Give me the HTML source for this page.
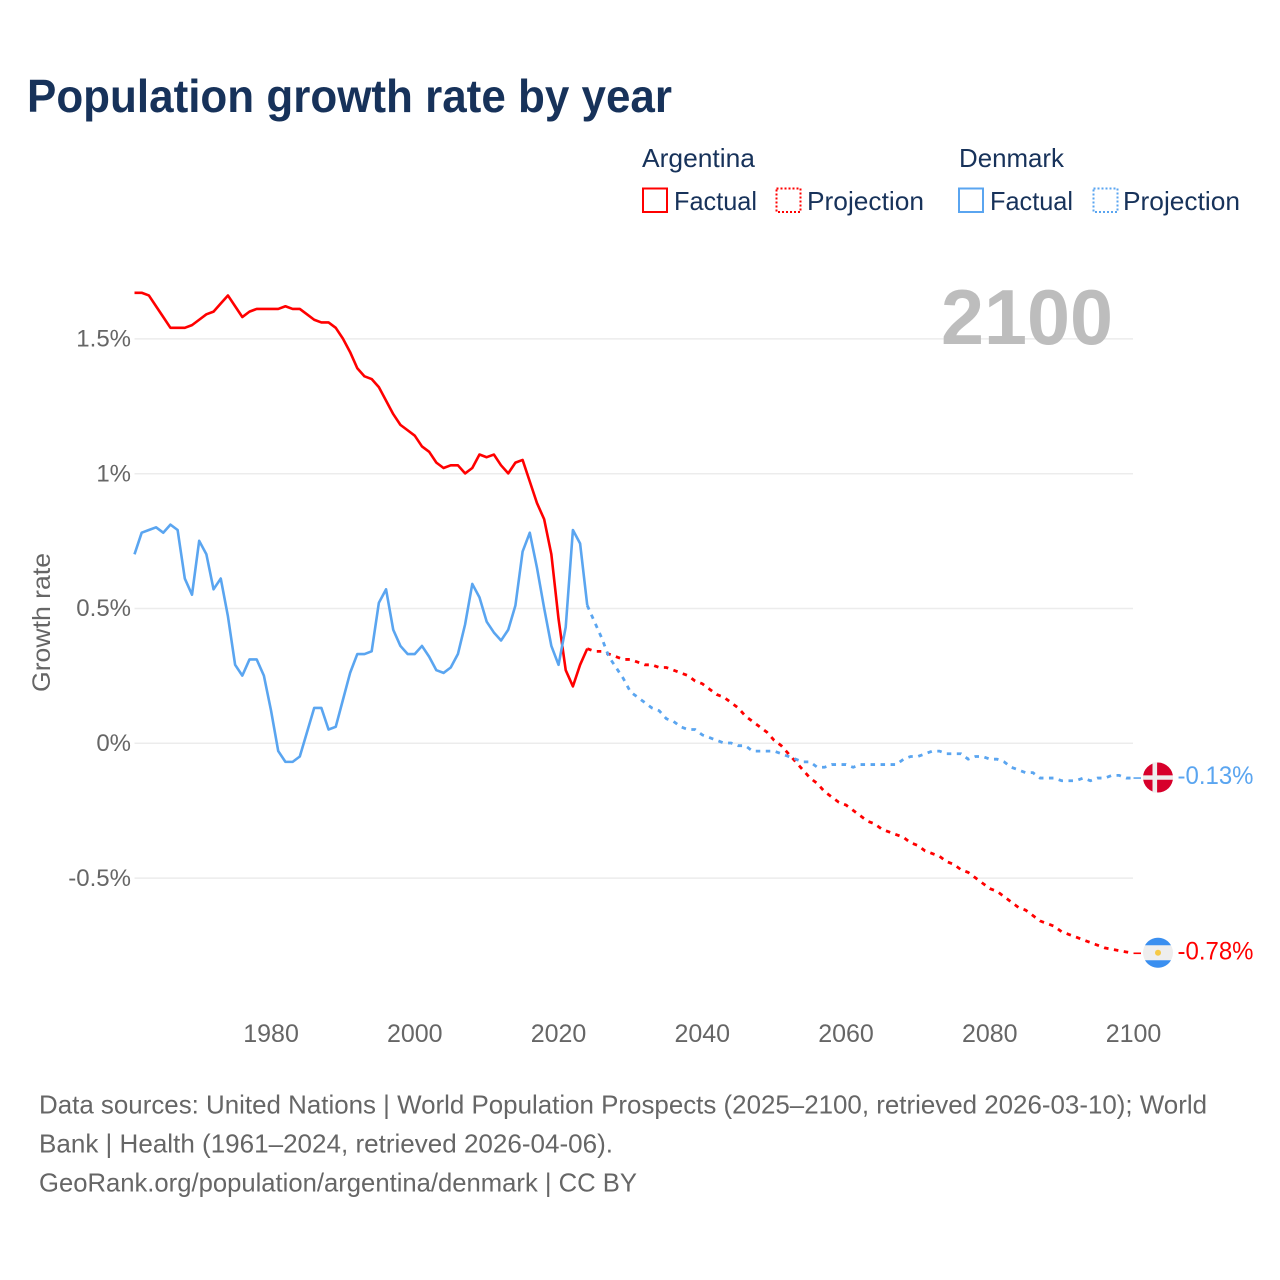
<!DOCTYPE html>
<html lang="en">
<head>
<meta charset="utf-8">
<title>Population growth rate by year</title>
<style>
html,body{margin:0;padding:0;background:#fff;}
svg{display:block;font-family:"Liberation Sans",sans-serif;}
</style>
</head>
<body>
<svg id="chart" width="1280" height="1280" viewBox="0 0 1280 1280" xmlns="http://www.w3.org/2000/svg">
  <rect x="0" y="0" width="1280" height="1280" fill="#fff"/>
  <text x="27" y="112" font-size="46" font-weight="700" fill="#17325a" textLength="645" lengthAdjust="spacingAndGlyphs">Population growth rate by year</text>

  <g font-size="26" fill="#17325a">
    <text x="642" y="167" textLength="113" lengthAdjust="spacingAndGlyphs">Argentina</text>
    <text x="959" y="167" textLength="105" lengthAdjust="spacingAndGlyphs">Denmark</text>
    <rect x="643" y="188.5" width="24" height="23.5" fill="none" stroke="#ff0000" stroke-width="2"/>
    <text x="674" y="210" textLength="83" lengthAdjust="spacingAndGlyphs">Factual</text>
    <rect x="776.5" y="188.5" width="24" height="23.5" fill="none" stroke="#ff0000" stroke-width="2" stroke-dasharray="2 2"/>
    <text x="807" y="210" textLength="117" lengthAdjust="spacingAndGlyphs">Projection</text>
    <rect x="959" y="188.5" width="24" height="23.5" fill="none" stroke="#5aa5f0" stroke-width="2"/>
    <text x="990" y="210" textLength="83" lengthAdjust="spacingAndGlyphs">Factual</text>
    <rect x="1093.5" y="188.5" width="24" height="23.5" fill="none" stroke="#5aa5f0" stroke-width="2" stroke-dasharray="2 2"/>
    <text x="1123" y="210" textLength="117" lengthAdjust="spacingAndGlyphs">Projection</text>
  </g>

  <text transform="translate(50,692) rotate(-90)" font-size="25" fill="#666666" textLength="139" lengthAdjust="spacingAndGlyphs">Growth rate</text>

  <g id="grid"></g>
  <text x="941" y="344" font-size="78" font-weight="700" fill="#bdbdbd" textLength="172" lengthAdjust="spacingAndGlyphs">2100</text>
  <g id="yTicks"></g>
  <g id="xTicks"></g>
  <g id="series"></g>
  <g id="ends"></g>

  <g font-size="26" fill="#666666">
    <text x="39" y="1113.5" textLength="1168" lengthAdjust="spacingAndGlyphs">Data sources: United Nations | World Population Prospects (2025–2100, retrieved 2026-03-10); World</text>
    <text x="39" y="1152.5" textLength="574" lengthAdjust="spacingAndGlyphs">Bank | Health (1961–2024, retrieved 2026-04-06).</text>
    <text x="39" y="1191.5" textLength="598" lengthAdjust="spacingAndGlyphs">GeoRank.org/population/argentina/denmark | CC BY</text>
  </g>
</svg>
<script>
const factualStartYear = 1961;
const projectionStartYear = 2024;
const yTickValues = [1.5, 1, 0.5, 0, -0.5];
const yTickLabels = ["1.5%", "1%", "0.5%", "0%", "-0.5%"];
const xTickYears = [1980, 2000, 2020, 2040, 2060, 2080, 2100];
const argentinaFactual = [1.67,1.67,1.66,1.62,1.58,1.54,1.54,1.54,1.55,1.57,1.59,1.60,1.63,1.66,1.62,1.58,1.60,1.61,1.61,1.61,1.61,1.62,1.61,1.61,1.59,1.57,1.56,1.56,1.54,1.50,1.45,1.39,1.36,1.35,1.32,1.27,1.22,1.18,1.16,1.14,1.10,1.08,1.04,1.02,1.03,1.03,1.00,1.02,1.07,1.06,1.07,1.03,1.00,1.04,1.05,0.97,0.89,0.83,0.70,0.46,0.27,0.21,0.29,0.35];
const denmarkFactual = [0.70,0.78,0.79,0.80,0.78,0.81,0.79,0.61,0.55,0.75,0.70,0.57,0.61,0.47,0.29,0.25,0.31,0.31,0.25,0.12,-0.03,-0.07,-0.07,-0.05,0.04,0.13,0.13,0.05,0.06,0.16,0.26,0.33,0.33,0.34,0.52,0.57,0.42,0.36,0.33,0.33,0.36,0.32,0.27,0.26,0.28,0.33,0.44,0.59,0.54,0.45,0.41,0.38,0.42,0.51,0.71,0.78,0.65,0.50,0.36,0.29,0.43,0.79,0.74,0.51];
const argentinaProjection = [0.35,0.34,0.34,0.33,0.32,0.31,0.31,0.30,0.29,0.29,0.28,0.28,0.27,0.26,0.25,0.23,0.22,0.20,0.18,0.17,0.15,0.13,0.10,0.08,0.06,0.04,0.01,-0.01,-0.04,-0.07,-0.10,-0.13,-0.15,-0.18,-0.20,-0.22,-0.23,-0.25,-0.27,-0.29,-0.30,-0.32,-0.33,-0.34,-0.35,-0.37,-0.38,-0.40,-0.41,-0.42,-0.44,-0.45,-0.47,-0.48,-0.50,-0.52,-0.54,-0.55,-0.57,-0.59,-0.61,-0.62,-0.64,-0.66,-0.67,-0.68,-0.70,-0.71,-0.72,-0.73,-0.74,-0.75,-0.76,-0.765,-0.77,-0.775,-0.78];
const denmarkProjection = [0.51,0.45,0.39,0.32,0.28,0.24,0.19,0.17,0.15,0.13,0.12,0.09,0.08,0.06,0.05,0.05,0.03,0.02,0.01,0.00,0.00,-0.01,-0.01,-0.03,-0.03,-0.03,-0.03,-0.04,-0.05,-0.06,-0.07,-0.07,-0.09,-0.09,-0.08,-0.08,-0.08,-0.09,-0.08,-0.08,-0.08,-0.08,-0.08,-0.08,-0.06,-0.05,-0.05,-0.04,-0.03,-0.03,-0.04,-0.04,-0.04,-0.06,-0.05,-0.05,-0.06,-0.06,-0.07,-0.09,-0.10,-0.11,-0.11,-0.13,-0.13,-0.13,-0.14,-0.14,-0.14,-0.13,-0.14,-0.13,-0.13,-0.12,-0.12,-0.13,-0.13];

const SVG_NS = "http://www.w3.org/2000/svg";
const RED = "#ff0000";
const BLUE = "#5aa5f0";

function xScale(year) {
  return 134.5 + (year - 1961) * (1133.5 - 134.5) / (2100 - 1961);
}
function yScale(value) {
  return 743 - value * 269.6;
}
function make(tag, attrs, parent, text) {
  const el = document.createElementNS(SVG_NS, tag);
  for (const k in attrs) el.setAttribute(k, attrs[k]);
  if (text !== undefined) el.textContent = text;
  parent.appendChild(el);
  return el;
}
function linePath(values, startYear) {
  return values.map(function (v, i) {
    return (i ? "L" : "M") + xScale(startYear + i).toFixed(2) + " " + yScale(v).toFixed(2);
  }).join(" ");
}

const gridG = document.getElementById("grid");
const yG = document.getElementById("yTicks");
const xG = document.getElementById("xTicks");
const seriesG = document.getElementById("series");
const endsG = document.getElementById("ends");

yTickValues.forEach(function (v, i) {
  const grid = make("line", { x1: 134.5, x2: 1133, y1: yScale(v) + 0.3, y2: yScale(v) + 0.3, stroke: "#ececec", "stroke-width": 1.5 }, gridG);
  
  
  const label = make("text", { x: 131, y: yScale(v) + 8, "text-anchor": "end", "font-size": 24, fill: "#666666" }, yG, yTickLabels[i]);
  
  
});

xTickYears.forEach(function (year) {
  const label = make("text", { x: xScale(year), y: 1042, "text-anchor": "middle", "font-size": 25, fill: "#666666" }, xG, String(year));
  
  
});

function drawSeries(name, color, factual, projection) {
  const solid = make("path", { d: linePath(factual, factualStartYear), fill: "none", stroke: color, "stroke-width": 2.6, "stroke-linejoin": "round" }, seriesG);
  
  
  const dashed = make("path", { d: linePath(projection, projectionStartYear), fill: "none", stroke: color, "stroke-width": 2.8, "stroke-dasharray": "4.5 5.5" }, seriesG);
  
  
}
drawSeries("argentina", RED, argentinaFactual, argentinaProjection);
drawSeries("denmark", BLUE, denmarkFactual, denmarkProjection);

function formatPercent(v) {
  return v.toFixed(2) + "%";
}
function drawEnd(name, color, projection, drawFlag) {
  const last = projection[projection.length - 1];
  const yy = yScale(last);
  const leader = make("line", { x1: 1133.5, x2: 1141, y1: yy, y2: yy, stroke: color, "stroke-width": 1.6 }, endsG);
  
  
  const flag = make("g", { transform: "translate(1158 " + (yy - 0.5) + ")" }, endsG);
  
  
  drawFlag(flag);
  const label = make("text", { x: 1177.5, y: yy + 6, "font-size": 25, fill: color, textLength: 76, lengthAdjust: "spacingAndGlyphs" }, endsG, formatPercent(last));
  
  
}
drawEnd("denmark", BLUE, denmarkProjection, function (g) {
  make("circle", { cx: 0, cy: 0, r: 15, fill: "#d7002b" }, g);
  make("rect", { x: -5.5, y: -15, width: 4.6, height: 30, fill: "#eeeeee" }, g);
  make("rect", { x: -15, y: -2.2, width: 30, height: 4.4, fill: "#eeeeee" }, g);
});
drawEnd("argentina", RED, argentinaProjection, function (g) {
  make("circle", { cx: 0, cy: 0, r: 15, fill: "#eeeeee" }, g);
  make("path", { d: "M-13 -7.5 A15 15 0 0 1 13 -7.5 Z", fill: "#3a8ff0" }, g);
  make("path", { d: "M-13 7.5 A15 15 0 0 0 13 7.5 Z", fill: "#3a8ff0" }, g);
  make("circle", { cx: 0, cy: 0, r: 3, fill: "#f6c945" }, g);
});
</script>
</body>
</html>
